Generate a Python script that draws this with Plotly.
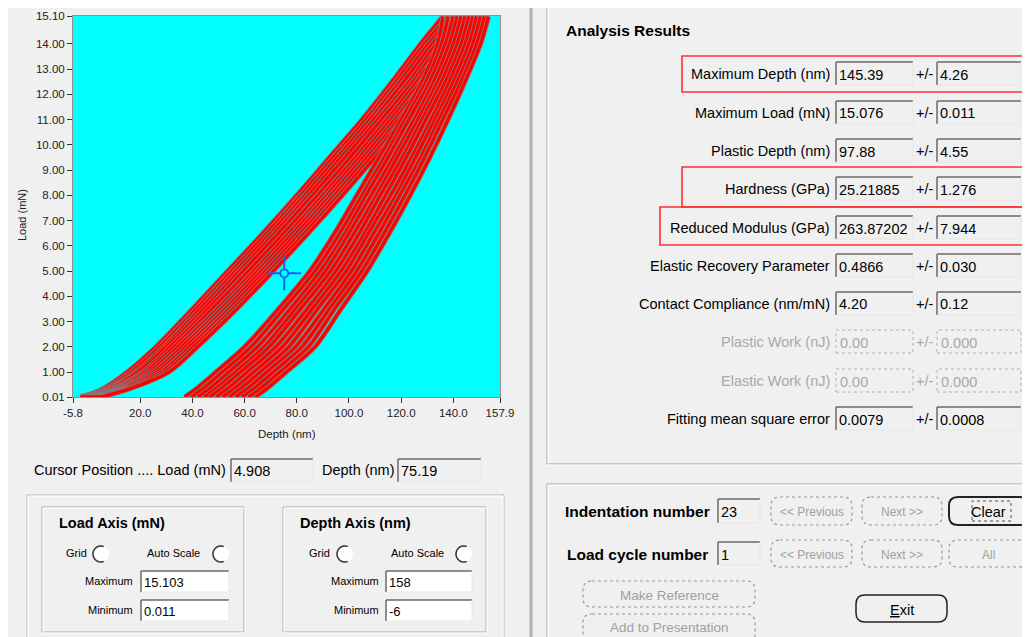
import math
import plotly.graph_objects as go

W, H = 1030, 637          # reference picture size
OFF = 8                   # page body margin
FW, FH = W - OFF, H - OFF  # figure size
FONT = "Liberation Sans"

# ---------------- data ----------------
load_levels_up = [0.01, 0.3, 1, 2, 3.5, 5, 6.5, 8, 9.5, 11, 12.5, 14, 15.08]
loading_depths = [
    [-3.0, 5.0, 15.0, 26.0, 40.0, 53.5, 67.0, 80.0, 92.5, 105.0, 116.5, 127.5, 136.0],
    [-2.5, 6.0, 16.5, 27.5, 41.5, 55.0, 68.5, 81.5, 94.0, 106.5, 118.0, 129.0, 138.0],
    [-1.5, 7.0, 18.0, 29.0, 43.0, 56.5, 70.0, 83.0, 95.5, 108.0, 119.5, 130.5, 140.0],
    [-1.0, 7.5, 19.0, 30.0, 44.5, 58.0, 71.5, 84.5, 97.0, 109.5, 121.0, 132.0, 141.5],
    [0.0, 8.5, 21.0, 31.5, 46.0, 59.5, 73.0, 86.0, 98.5, 111.0, 123.0, 133.5, 143.0],
    [0.5, 9.5, 22.0, 33.0, 47.5, 61.5, 75.0, 88.0, 100.5, 112.5, 124.5, 135.0, 144.5],
    [1.5, 10.5, 23.5, 34.5, 49.5, 63.5, 77.0, 90.0, 102.5, 114.5, 126.0, 136.5, 146.0],
    [2.0, 11.5, 25.0, 36.0, 51.0, 65.0, 78.5, 91.5, 104.0, 116.0, 127.5, 138.0, 147.5],
    [2.5, 12.0, 26.5, 37.5, 52.5, 66.5, 80.0, 93.0, 105.5, 117.5, 129.0, 139.5, 149.0],
    [3.5, 13.0, 28.0, 39.0, 54.0, 68.0, 81.5, 94.5, 107.0, 119.0, 130.5, 141.5, 150.5],
    [4.0, 14.0, 29.5, 40.5, 55.5, 69.5, 83.0, 96.0, 108.5, 120.5, 132.5, 143.0, 152.0],
    [5.0, 15.0, 31.0, 42.0, 57.0, 71.0, 84.5, 97.5, 110.0, 122.0, 134.0, 144.5, 153.5],
]
load_levels_down = [15.08, 14, 12.5, 11, 9.5, 8, 6.5, 5, 3.5, 2, 1, 0.3, 0.01]
unloading_depths = [
    [136.0, 134.0, 128.0, 120.0, 111.5, 103.0, 94.5, 85.0, 73.0, 60.0, 49.0, 41.0, 37.0],
    [138.0, 135.5, 129.5, 121.5, 113.5, 105.0, 96.5, 87.0, 75.0, 62.5, 51.5, 43.5, 39.5],
    [140.0, 137.0, 131.0, 123.0, 115.0, 106.5, 98.5, 89.0, 77.5, 65.0, 54.0, 46.0, 42.0],
    [141.5, 138.5, 132.5, 125.0, 117.0, 108.5, 100.0, 91.0, 79.5, 67.5, 56.5, 48.5, 44.5],
    [143.0, 140.0, 134.0, 126.5, 118.5, 110.5, 102.0, 93.0, 81.5, 69.5, 58.5, 50.5, 46.5],
    [144.5, 141.5, 135.5, 128.0, 120.5, 112.0, 104.0, 95.0, 84.0, 72.0, 61.0, 53.0, 49.0],
    [146.0, 143.0, 137.0, 129.5, 122.0, 114.0, 106.0, 97.0, 86.0, 74.5, 63.5, 55.5, 51.5],
    [147.5, 144.5, 138.5, 131.5, 124.0, 116.0, 107.5, 99.0, 88.0, 77.0, 66.0, 58.0, 54.0],
    [149.0, 146.0, 140.0, 133.0, 125.5, 118.0, 109.5, 101.0, 90.5, 79.5, 68.5, 60.5, 56.5],
    [150.5, 147.5, 141.5, 134.5, 127.5, 119.5, 111.5, 103.0, 92.5, 82.0, 71.0, 63.0, 59.0],
    [152.0, 149.0, 143.0, 136.0, 129.0, 121.5, 113.5, 105.0, 94.5, 84.5, 73.5, 65.5, 61.5],
    [153.5, 150.5, 144.5, 138.0, 131.0, 123.5, 115.5, 107.0, 97.0, 87.0, 76.0, 68.0, 64.0],
]
cursor_depth = [75.19]
cursor_load = [4.908]

x_tick_vals = [-5.8, 20, 40, 60, 80, 100, 120, 140, 157.9]
x_tick_text = ["-5.8", "20.0", "40.0", "60.0", "80.0", "100.0", "120.0", "140.0", "157.9"]
y_tick_vals = [0.01, 1, 2, 3, 4, 5, 6, 7, 8, 9, 10, 11, 12, 13, 14, 15.1]
y_tick_text = ["0.01", "1.00", "2.00", "3.00", "4.00", "5.00", "6.00", "7.00", "8.00",
               "9.00", "10.00", "11.00", "12.00", "13.00", "14.00", "15.10"]

result_labels = ["Maximum Depth (nm)", "Maximum Load (mN)", "Plastic Depth (nm)",
                 "Hardness (GPa)", "Reduced Modulus (GPa)", "Elastic Recovery Parameter",
                 "Contact Compliance (nm/mN)", "Plastic Work (nJ)", "Elastic Work (nJ)",
                 "Fitting mean square error"]
result_values = ["145.39", "15.076", "97.88", "25.21885", "263.87202", "0.4866",
                 "4.20", "0.00", "0.00", "0.0079"]
result_errors = ["4.26", "0.011", "4.55", "1.276", "7.944", "0.030",
                 "0.12", "0.000", "0.000", "0.0008"]
result_disabled = [False, False, False, False, False, False, False, True, True, False]

load_axis_max, load_axis_min = "15.103", "0.011"
depth_axis_max, depth_axis_min = "158", "-6"
cursor_load_text, cursor_depth_text = "4.908", "75.19"
indentation_number, load_cycle_number = "23", "1"

# ---------------- helpers (reference pixel -> paper) ----------------
def X(p):
    return (p - OFF) / FW


def Y(p):
    return 1 - (p - OFF) / FH


shapes = []
annotations = []


def rect(x0, y0, x1, y1, fill=None, line=None, width=1, dash=None, layer="above"):
    d = dict(type="rect", xref="paper", yref="paper", x0=X(x0), x1=X(x1), y0=Y(y1), y1=Y(y0),
             layer=layer, line=dict(width=0 if line is None else width, color=line or "rgba(0,0,0,0)"))
    if dash:
        d["line"]["dash"] = dash
    if fill:
        d["fillcolor"] = fill
    shapes.append(d)


def seg(x0, y0, x1, y1, color, width=1, dash=None):
    d = dict(type="line", xref="paper", yref="paper", x0=X(x0), x1=X(x1), y0=Y(y0), y1=Y(y1),
             line=dict(color=color, width=width))
    if dash:
        d["line"]["dash"] = dash
    shapes.append(d)


def text(x, y, s, size=14, color="#000000", anchor="left", bold=False, family=FONT, angle=0):
    if bold:
        s = "<b>" + s + "</b>"
    annotations.append(dict(xref="paper", yref="paper", x=X(x), y=Y(y), text=s, showarrow=False,
                            xanchor=anchor, yanchor="middle", textangle=angle,
                            font=dict(size=size, color=color, family=family)))


def tbox(x0, y0, x1, y1, value, fill="#f0f0f0", disabled=False, size=14.5):
    rect(x0, y0, x1, y1, fill=fill)
    if disabled:
        rect(x0, y0, x1, y1, line="#b0b0b0", width=1, dash="dot")
        text(x0 + 2, (y0 + y1) / 2 + 1, value, size=size, color="#a8a8a8")
    else:
        seg(x0, y0, x1, y0, "#6a6a6a", 1.5)
        seg(x0, y0, x0, y1, "#6a6a6a", 1.5)
        seg(x0, y1, x1, y1, "#e6e6e6", 1)
        seg(x1, y0, x1, y1, "#e6e6e6", 1)
        text(x0 + 1, (y0 + y1) / 2 + 1, value, size=size, color="#000000")


def rr_path(x0, y0, x1, y1, r):
    return (f"M {X(x0 + r)},{Y(y0)} L {X(x1 - r)},{Y(y0)} Q {X(x1)},{Y(y0)} {X(x1)},{Y(y0 + r)} "
            f"L {X(x1)},{Y(y1 - r)} Q {X(x1)},{Y(y1)} {X(x1 - r)},{Y(y1)} "
            f"L {X(x0 + r)},{Y(y1)} Q {X(x0)},{Y(y1)} {X(x0)},{Y(y1 - r)} "
            f"L {X(x0)},{Y(y0 + r)} Q {X(x0)},{Y(y0)} {X(x0 + r)},{Y(y0)} Z")


def button(x0, y0, x1, y1, label, enabled=False, size=12, bold_border=False, ty=None):
    cy = (y0 + y1) / 2 + 1 if ty is None else ty
    if enabled:
        shapes.append(dict(type="path", xref="paper", yref="paper", path=rr_path(x0, y0, x1, y1, 9),
                           line=dict(color="#222222", width=2 if bold_border else 1.5),
                           fillcolor="#f0f0f0"))
        text((x0 + x1) / 2, cy, label, size=size + 2.5, color="#000000", anchor="center")
    else:
        shapes.append(dict(type="path", xref="paper", yref="paper", path=rr_path(x0, y0, x1, y1, 9),
                           line=dict(color="#9a9a9a", width=1.2, dash="dot"), fillcolor="#f0f0f0"))
        text((x0 + x1) / 2, cy, label, size=size, color="#a0a0a0", anchor="center")


def radio(cx, cy, r=8):
    shapes.append(dict(type="circle", xref="paper", yref="paper", x0=X(cx - r), x1=X(cx + r),
                       y0=Y(cy + r), y1=Y(cy - r), fillcolor="#ffffff",
                       line=dict(color="#ffffff", width=0)))
    pts = []
    for k in range(0, 25):
        a = math.radians(70 + k * 220 / 24)
        pts.append((cx + r * math.cos(a), cy - r * math.sin(a)))
    p = "M " + " L ".join(f"{X(px)},{Y(py)}" for px, py in pts)
    shapes.append(dict(type="path", xref="paper", yref="paper", path=p,
                       line=dict(color="#333333", width=1.5)))


# ---------------- figure & curves ----------------
fig = go.Figure()


def add_curve(xs, ys):
    fig.add_trace(go.Scatter(x=xs, y=ys, mode="lines",
                             line=dict(color="#8a7a7a", width=5, shape="spline", smoothing=0.8),
                             hoverinfo="skip"))
    fig.add_trace(go.Scatter(x=xs, y=ys, mode="lines",
                             line=dict(color="#ff0000", width=3.3, shape="spline", smoothing=0.8),
                             hoverinfo="skip"))


for dep in loading_depths:
    add_curve(dep, load_levels_up)
for dep in unloading_depths:
    add_curve(dep, load_levels_down)

# cursor crosshair
fig.add_trace(go.Scatter(x=cursor_depth, y=cursor_load, mode="markers",
                         marker=dict(symbol="cross-thin-open", size=24, color="#1a5cff",
                                     line=dict(color="#1a5cff", width=2)), hoverinfo="skip"))
fig.add_trace(go.Scatter(x=cursor_depth, y=cursor_load, mode="markers",
                         marker=dict(symbol="circle", size=8, color="#00ffff",
                                     line=dict(color="#1a5cff", width=1.8)), hoverinfo="skip"))

# ---------------- window chrome ----------------
seg(531, 0, 531, H, "#b0b0b0", 3)
seg(547, 0, 547, 464, "#a0a0a0", 1)
seg(548, 0, 548, 464, "#ffffff", 1)
seg(547, 464, W, 464, "#a0a0a0", 1)
seg(547, 465, W, 465, "#ffffff", 1)
seg(547, 484, W, 484, "#a0a0a0", 1)
seg(547, 485, W, 485, "#ffffff", 1)
seg(547, 484, 547, H, "#a0a0a0", 1)
seg(548, 485, 548, H, "#ffffff", 1)

# axis titles
text(22, 215, "Load (mN)", size=11, color="#222222", anchor="center", angle=-90)
text(287, 434, "Depth (nm)", size=11.5, color="#222222", anchor="center")

# cursor position row
text(32, 470, "Cursor Position .... Load (mN)", size=14.5)
tbox(231, 459, 313, 482, cursor_load_text)
text(320, 470, "Depth (nm)", size=14.5)
tbox(398, 459, 481, 482, cursor_depth_text)

# axis group boxes
rect(27, 495, 504, 645, line="#b4b4b4", width=1)
rect(28, 496, 503, 645, line="#ffffff", width=1)
for gx0, gx1, title, vmax, vmin, grid_x, gc, as_x, ac, lab_r, bx0, bx1 in [
    (42, 244, "Load Axis (mN)", load_axis_max, load_axis_min, 64, 101, 145, 221, 135, 141, 229),
    (283, 486, "Depth Axis (nm)", depth_axis_max, depth_axis_min, 307, 345, 389, 464, 381, 386, 472),
]:
    rect(gx0, 507, gx1, 632, line="#a8a8a8", width=1)
    rect(gx0 + 1, 508, gx1 + 1, 633, line="#ffffff", width=1)
    text(gx0 + 15, 523, title, size=14.5, bold=True)
    text(grid_x, 553, "Grid", size=11)
    radio(gc, 554)
    text(as_x, 553, "Auto Scale", size=11)
    radio(ac, 554)
    text(lab_r, 581, "Maximum", size=11, anchor="right")
    tbox(bx0, 571, bx1, 592, vmax, fill="#ffffff", size=13)
    text(lab_r, 610, "Minimum", size=11, anchor="right")
    tbox(bx0, 600, bx1, 621, vmin, fill="#ffffff", size=13)

# analysis results
text(564, 31, "Analysis Results", size=15.5, bold=True)
row_y = [74, 113, 151, 189, 228, 266, 304, 342, 381, 419]
for lab, val, err, dis, ry in zip(result_labels, result_values, result_errors, result_disabled, row_y):
    col = "#a8a8a8" if dis else "#000000"
    text(832, ry, lab, size=14.5, color=col, anchor="right")
    tbox(836, ry - 12, 913, ry + 11, val, disabled=dis)
    text(924, ry, "+/-", size=14.5, color=col, anchor="center")
    tbox(937, ry - 12, 1021, ry + 11, err, disabled=dis)

# highlight rectangles
rect(682, 56, 1036, 92, line="#ff3030", width=1.6)
rect(682, 167, 1036, 207, line="#ff3030", width=1.6)
rect(660, 207, 1036, 245, line="#ff3030", width=1.6)

# bottom-right controls
text(563, 511, "Indentation number", size=15.5, bold=True)
tbox(718, 499, 760, 523, indentation_number)
text(565, 554, "Load cycle number", size=15.5, bold=True)
tbox(718, 542, 760, 565, load_cycle_number)
button(771, 497, 852, 525, "&lt;&lt; Previous")
button(862, 497, 942, 525, "Next &gt;&gt;")
button(949, 497, 1028, 525, "Clear", enabled=True, bold_border=True)
rect(972, 501, 1011, 521, line="#555555", width=1, dash="dot")
button(771, 540, 852, 567, "&lt;&lt; Previous")
button(862, 540, 942, 567, "Next &gt;&gt;")
button(949, 540, 1028, 567, "All")
button(583, 581, 755, 607, "Make Reference", size=13.5)
button(583, 614, 755, 645, "Add to Presentation", size=13.5, ty=627)
button(856, 595, 947, 622, "<u>E</u>xit", enabled=True)

axis_common = dict(ticks="outside", ticklen=5, tickcolor="#333333",
                   tickfont=dict(family=FONT, size=11.5, color="#222222"),
                   showgrid=False, zeroline=False, showline=True, linecolor="#909090",
                   linewidth=1, mirror=True, fixedrange=True, automargin=False)

fig.update_layout(
    width=FW, height=FH,
    margin=dict(l=0, r=0, t=0, b=0, pad=0),
    paper_bgcolor="#f0f0f0",
    plot_bgcolor="#00ffff",
    showlegend=False,
    shapes=shapes,
    annotations=annotations,
    xaxis=dict(domain=[X(73), X(500)], range=[-5.8, 157.9], tickvals=x_tick_vals,
               ticktext=x_tick_text, **axis_common),
    yaxis=dict(domain=[Y(397), Y(16)], range=[0.01, 15.1], tickvals=y_tick_vals,
               ticktext=y_tick_text, **axis_common),
)

fig.write_html("out.html")
